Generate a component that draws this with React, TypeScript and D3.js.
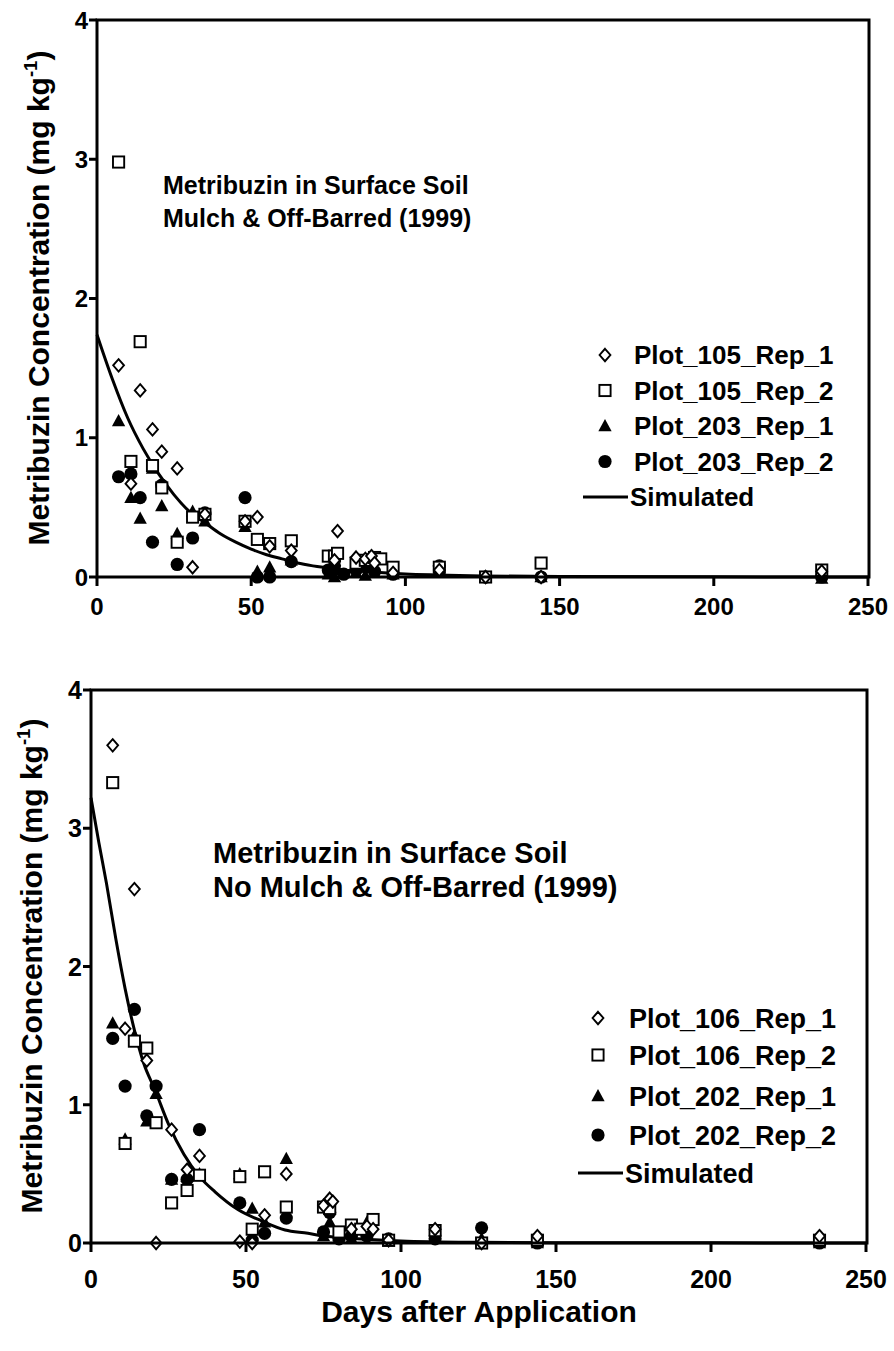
import React from 'react';
import * as d3 from 'd3';

// ---------- Top panel data (Mulch & Off-Barred) ----------
const p105r1Days = [7, 11, 14, 18, 21, 26, 31, 35, 48, 52, 56, 63, 77, 78, 84, 87, 89, 90, 96, 111, 126, 144, 235];
const p105r1Vals = [1.52, 0.67, 1.34, 1.06, 0.9, 0.78, 0.07, 0.45, 0.4, 0.43, 0.22, 0.19, 0.12, 0.33, 0.14, 0.13, 0.15, 0.1, 0.03, 0.05, 0.0, 0.0, 0.04];
const p105r2Days = [7, 11, 14, 18, 21, 26, 31, 35, 48, 52, 56, 63, 75, 77, 78, 84, 87, 90, 92, 96, 111, 126, 144, 235];
const p105r2Vals = [2.98, 0.83, 1.69, 0.8, 0.64, 0.25, 0.43, 0.45, 0.4, 0.27, 0.24, 0.26, 0.15, 0.15, 0.17, 0.1, 0.12, 0.14, 0.13, 0.07, 0.07, 0.0, 0.1, 0.05];
const p203r1Days = [7, 11, 14, 18, 21, 26, 31, 35, 48, 52, 56, 63, 75, 77, 78, 84, 87, 90, 96, 111, 126, 144, 235];
const p203r1Vals = [1.12, 0.57, 0.42, 0.78, 0.51, 0.31, 0.47, 0.4, 0.36, 0.04, 0.07, 0.12, 0.02, 0.0, 0.05, 0.03, 0.01, 0.03, 0.02, 0.05, 0.0, 0.0, -0.01];
const p203r2Days = [7, 11, 14, 18, 21, 26, 31, 35, 48, 52, 56, 63, 75, 77, 80, 84, 87, 90, 96, 111, 126, 144, 235];
const p203r2Vals = [0.72, 0.74, 0.57, 0.25, 0.66, 0.09, 0.28, 0.46, 0.57, 0.0, 0.0, 0.11, 0.05, 0.08, 0.02, 0.05, 0.08, 0.04, 0.02, 0.08, 0.0, 0.0, 0.0];
const simTopDays = [0, 5, 10, 15, 20, 25, 30, 35, 40, 45, 50, 55, 60, 65, 70, 75, 80, 90, 100, 110, 125, 150, 200, 250];
const simTopVals = [1.74, 1.42, 1.14, 0.92, 0.74, 0.59, 0.47, 0.39, 0.31, 0.25, 0.2, 0.16, 0.13, 0.1, 0.08, 0.065, 0.05, 0.035, 0.022, 0.015, 0.008, 0.003, 0.001, 0];

// ---------- Bottom panel data (No Mulch & Off-Barred) ----------
const p106r1Days = [7, 11, 14, 18, 21, 26, 31, 35, 48, 52, 56, 63, 75, 77, 78, 84, 89, 91, 96, 111, 126, 144, 235];
const p106r1Vals = [3.6, 1.55, 2.56, 1.32, 0.0, 0.82, 0.53, 0.63, 0.01, 0.0, 0.2, 0.5, 0.27, 0.32, 0.3, 0.1, 0.12, 0.1, 0.02, 0.1, 0.0, 0.05, 0.05];
const p106r2Days = [7, 11, 14, 18, 21, 26, 31, 35, 48, 52, 56, 63, 75, 77, 80, 84, 87, 91, 96, 111, 126, 144, 235];
const p106r2Vals = [3.33, 0.72, 1.46, 1.41, 0.87, 0.29, 0.38, 0.49, 0.48, 0.1, 0.515, 0.26, 0.26, 0.25, 0.08, 0.13, 0.1, 0.17, 0.02, 0.09, 0.0, 0.02, 0.02];
const p202r1Days = [7, 11, 14, 18, 21, 26, 31, 35, 48, 52, 56, 63, 75, 77, 80, 84, 89, 96, 111, 126, 144, 235];
const p202r1Vals = [1.59, 0.75, 1.5, 0.88, 1.08, 0.46, 0.48, 0.5, 0.5, 0.25, 0.15, 0.61, 0.05, 0.15, 0.05, 0.03, 0.15, 0.01, 0.09, 0.03, 0.0, 0.0];
const p202r2Days = [7, 11, 14, 18, 21, 26, 31, 35, 48, 52, 56, 63, 75, 77, 80, 84, 89, 96, 111, 126, 144, 235];
const p202r2Vals = [1.48, 1.135, 1.69, 0.92, 1.135, 0.46, 0.46, 0.82, 0.29, 0.02, 0.07, 0.18, 0.08, 0.22, 0.03, 0.05, 0.05, 0.03, 0.03, 0.11, 0.0, 0.0];
const simBotDays = [0, 2.5, 5, 8, 11, 14, 17, 20.6, 25, 30, 35, 40, 47.5, 55, 62.6, 70, 75, 80, 90, 100, 125, 150, 200, 250];
const simBotVals = [3.22, 2.9, 2.6, 2.2, 1.84, 1.54, 1.3, 1.11, 0.86, 0.64, 0.48, 0.37, 0.24, 0.16, 0.094, 0.07, 0.05, 0.04, 0.025, 0.015, 0.005, 0.002, 0.001, 0];

const xTicks = [0, 50, 100, 150, 200, 250];
const yTicks = [0, 1, 2, 3, 4];

const FONT = '"Liberation Sans", Arial, "DejaVu Sans", sans-serif';

type Series = { name: string; days: number[]; vals: number[]; shape: 'diamond' | 'square' | 'triangle' | 'circle' };

function Marker({ shape, x, y }: { shape: string; x: number; y: number }) {
  if (shape === 'diamond') {
    const h = 6.2, w = 5.4;
    return <path d={`M${x},${y - h}L${x + w},${y}L${x},${y + h}L${x - w},${y}Z`} fill="#fff" stroke="#000" strokeWidth={1.9} />;
  }
  if (shape === 'square') {
    const s = 5.6;
    return <rect x={x - s} y={y - s} width={2 * s} height={2 * s} fill="#fff" stroke="#000" strokeWidth={1.9} />;
  }
  if (shape === 'triangle') {
    const s = 7;
    return <path d={`M${x},${y - s}L${x + s * 0.95},${y + s * 0.75}L${x - s * 0.95},${y + s * 0.75}Z`} fill="#000" />;
  }
  return <circle cx={x} cy={y} r={6.6} fill="#000" />;
}

type PanelProps = {
  x0: number; x1: number; y0: number; y4: number;
  series: Series[]; simDays: number[]; simVals: number[];
  titles: string[]; titleX: number; titleY: number[]; titleSize: number;
  legendMarkerX: number; legendTextX: number; legendY: number[]; legendSize: number;
  simLine: [number, number];
  tickSize: number; xTickLabelY: number;
  ylabelX: number; ylabelY: number; ylabelSize: number;
};

function Panel(p: PanelProps) {
  const x = d3.scaleLinear().domain([0, 250]).range([p.x0, p.x1]);
  const y = d3.scaleLinear().domain([0, 4]).range([p.y0, p.y4]);
  const simPts = p.simDays.map((d, i) => [d, p.simVals[i]] as [number, number]);
  const line = d3.line<[number, number]>().x(d => x(d[0])).y(d => y(d[1])).curve(d3.curveMonotoneX);
  const order = ['circle', 'triangle', 'square', 'diamond'];
  const drawSeries = [...p.series].sort((a, b) => order.indexOf(a.shape) - order.indexOf(b.shape));
  return (
    <g fontFamily={FONT} fontWeight="bold">
      <path d={line(simPts) || ''} fill="none" stroke="#000" strokeWidth={3} />
      {drawSeries.map(s => (
        <g key={s.name}>
          {s.days.map((d, i) => <Marker key={i} shape={s.shape} x={x(d)} y={y(s.vals[i])} />)}
        </g>
      ))}
      <rect x={p.x0} y={p.y4} width={x(250) - p.x0 + 1} height={p.y0 - p.y4} fill="none" stroke="#000" strokeWidth={3} />
      {yTicks.map(t => (
        <g key={'y' + t}>
          <line x1={p.x0 - 8} x2={p.x0} y1={y(t)} y2={y(t)} stroke="#000" strokeWidth={3} />
          <text x={p.x0 - 9} y={y(t)} dy="0.36em" textAnchor="end" fontSize={p.tickSize}>{t}</text>
        </g>
      ))}
      {xTicks.map(t => (
        <g key={'x' + t}>
          <line x1={x(t)} x2={x(t)} y1={p.y0} y2={p.y0 + 9} stroke="#000" strokeWidth={3} />
          <text x={x(t)} y={p.xTickLabelY} dy="0.36em" textAnchor="middle" fontSize={p.tickSize}>{t}</text>
        </g>
      ))}
      <text transform={`translate(${p.ylabelX},${p.ylabelY}) rotate(-90)`} textAnchor="middle" fontSize={p.ylabelSize} dy="0.36em">
        Metribuzin Concentration (mg kg<tspan dy={-p.ylabelSize * 0.4} fontSize={p.ylabelSize * 0.62}>-1</tspan><tspan dy={p.ylabelSize * 0.4}>)</tspan>
      </text>
      {p.titles.map((t, i) => (
        <text key={t} x={p.titleX} y={p.titleY[i]} dy="0.36em" fontSize={p.titleSize}>{t}</text>
      ))}
      {p.series.map((s, i) => (
        <g key={'lg' + s.name}>
          <Marker shape={s.shape} x={p.legendMarkerX} y={p.legendY[i]} />
          <text x={p.legendTextX} y={p.legendY[i]} dy="0.36em" fontSize={p.legendSize}>{s.name}</text>
        </g>
      ))}
      <line x1={p.simLine[0]} x2={p.simLine[1]} y1={p.legendY[4]} y2={p.legendY[4]} stroke="#000" strokeWidth={3} />
      <text x={p.simLine[1] + 2} y={p.legendY[4]} dy="0.36em" fontSize={p.legendSize}>Simulated</text>
    </g>
  );
}

export default function App() {
  const topSeries: Series[] = [
    { name: 'Plot_105_Rep_1', days: p105r1Days, vals: p105r1Vals, shape: 'diamond' },
    { name: 'Plot_105_Rep_2', days: p105r2Days, vals: p105r2Vals, shape: 'square' },
    { name: 'Plot_203_Rep_1', days: p203r1Days, vals: p203r1Vals, shape: 'triangle' },
    { name: 'Plot_203_Rep_2', days: p203r2Days, vals: p203r2Vals, shape: 'circle' },
  ];
  const botSeries: Series[] = [
    { name: 'Plot_106_Rep_1', days: p106r1Days, vals: p106r1Vals, shape: 'diamond' },
    { name: 'Plot_106_Rep_2', days: p106r2Days, vals: p106r2Vals, shape: 'square' },
    { name: 'Plot_202_Rep_1', days: p202r1Days, vals: p202r1Vals, shape: 'triangle' },
    { name: 'Plot_202_Rep_2', days: p202r2Days, vals: p202r2Vals, shape: 'circle' },
  ];
  return (
    <svg width={894} height={1351} style={{ position: 'absolute', left: 0, top: 0, background: '#fff' }}>
      <rect width={894} height={1351} fill="#fff" />
      <Panel
        x0={97} x1={868} y0={577} y4={20}
        series={topSeries} simDays={simTopDays} simVals={simTopVals}
        titles={['Metribuzin in Surface Soil', 'Mulch & Off-Barred (1999)']}
        titleX={163} titleY={[185, 218]} titleSize={25}
        legendMarkerX={605} legendTextX={634} legendY={[355, 390.5, 426, 461.5, 497]} legendSize={26}
        simLine={[583, 628]}
        tickSize={24} xTickLabelY={606}
        ylabelX={38} ylabelY={298} ylabelSize={30}
      />
      <Panel
        x0={91} x1={866} y0={1243} y4={690}
        series={botSeries} simDays={simBotDays} simVals={simBotVals}
        titles={['Metribuzin in Surface Soil', 'No Mulch & Off-Barred (1999)']}
        titleX={213} titleY={[853, 887]} titleSize={29}
        legendMarkerX={598} legendTextX={629} legendY={[1018, 1055, 1096, 1135, 1173]} legendSize={27}
        simLine={[578, 623]}
        tickSize={25} xTickLabelY={1279}
        ylabelX={31} ylabelY={966} ylabelSize={30}
      />
      <text x={479} y={1311} dy="0.36em" textAnchor="middle" fontFamily={FONT} fontWeight="bold" fontSize={30}>Days after Application</text>
    </svg>
  );
}
